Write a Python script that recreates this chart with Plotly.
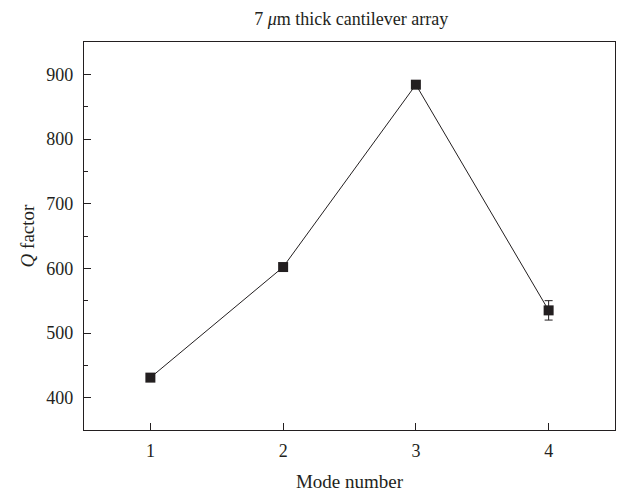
import plotly.graph_objects as go

modes = [1, 2, 3, 4]
q_factor = [431, 602, 884, 535]
q_error = [0, 0, 0, 15]
x_ticks = [1, 2, 3, 4]
y_ticks = [400, 500, 600, 700, 800, 900]

ink = "#231f20"
font = dict(family="Liberation Serif, DejaVu Serif, serif", size=19, color=ink)

fig = go.Figure()
fig.add_trace(go.Scatter(
    x=modes, y=q_factor,
    mode="lines+markers",
    line=dict(color=ink, width=1),
    marker=dict(symbol="square", size=10, color=ink),
    error_y=dict(type="data", array=q_error, visible=True, color=ink, thickness=1, width=4),
    showlegend=False,
))

fig.update_layout(
    width=624, height=497,
    margin=dict(l=84, r=9, t=42, b=67),
    paper_bgcolor="white", plot_bgcolor="white",
    font=font,
    title=dict(text="7 <i>μ</i>m thick cantilever array", x=0.563, xanchor="center",
               y=0.963, yanchor="middle", font=dict(size=18)),
)
fig.update_xaxes(
    range=[0.5, 4.5], tickvals=x_ticks, ticks="inside", ticklen=7, tickcolor=ink,
    tickfont=dict(size=18), ticklabelstandoff=4, automargin=False,
    showline=True, linecolor=ink, linewidth=1.3, mirror=True, showgrid=False, zeroline=False,
    title=dict(text="Mode number", standoff=14, font=dict(size=19)),
)
fig.update_yaxes(
    range=[350, 950], tickvals=y_ticks, ticks="inside", ticklen=7, tickcolor=ink,
    tickfont=dict(size=18), ticklabelstandoff=6, automargin=False,
    minor=dict(dtick=50, tick0=350, ticks="inside", ticklen=4, tickcolor=ink, showgrid=False),
    showline=True, linecolor=ink, linewidth=1.3, mirror=True, showgrid=False, zeroline=False,
    title=dict(text="<i>Q</i> factor", standoff=6, font=dict(size=19)),
)

fig.write_html("out.html")
